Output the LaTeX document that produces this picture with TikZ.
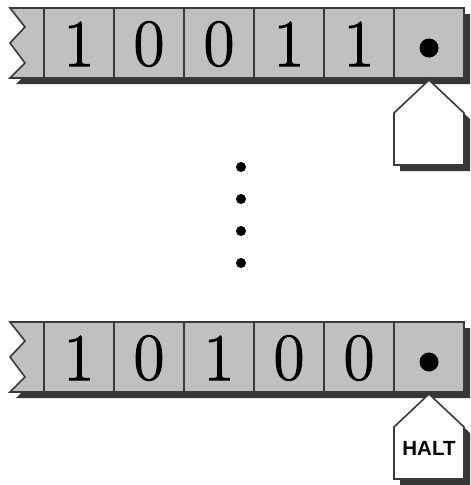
\documentclass[tikz,border=0pt]{standalone}
\usepackage{fontspec}
\newfontfamily\haltfont{Liberation Sans}
\newfontfamily\digitfont[FakeBold=1.6]{Latin Modern Roman}
\usetikzlibrary{calc}
\definecolor{tapegray}{HTML}{C0C0C0}
\definecolor{edgegray}{HTML}{3A3A3A}
\definecolor{shadowgray}{HTML}{363636}

\begin{document}
\begin{tikzpicture}[x=1pt,y=-1pt,
  tape/.style={fill=tapegray,draw=edgegray,line width=1.6pt,line join=miter},
  cellline/.style={draw=edgegray,line width=1.6pt},
  shade/.style={fill=shadowgray},
  headbox/.style={fill=white,draw=edgegray,line width=1.6pt},
  digit/.style={font=\digitfont\fontsize{67}{67}\selectfont,inner sep=0pt}]
\useasboundingbox (0,0) rectangle (471,485);

% top tape
\fill[shade] (470,14) -- (16,14) -- (31,33) -- (16,49) -- (31,69) -- (16,84) -- (470,84) -- cycle; % shadow
\draw[tape] (464,8) -- (10,8) -- (25,27) -- (10,43) -- (25,63) -- (10,78) -- (464,78) -- cycle; % tape
\foreach \x in {44,114,184,254,324,394}
  \draw[cellline] (\x,8) -- (\x,78); % cells
\foreach \d [count=\i] in {1,0,0,1,1}
  \node[digit] (top\i) at ({9+70*\i},44) {\d};
\fill (429,48) circle (9.5); % blank
\fill[shade] (435,86) -- (470,119) -- (470,171) -- (400,171) -- (400,119) -- cycle; % head shadow
\draw[headbox] (429,80) -- (464,113) -- (464,165) -- (394,165) -- (394,113) -- cycle; % head

% dots
\foreach \y in {167,199,231,263}
  \fill (241,\y) circle (5);

% bottom tape
\begin{scope}[yshift=-314pt]
\fill[shade] (470,14) -- (16,14) -- (31,33) -- (16,49) -- (31,69) -- (16,84) -- (470,84) -- cycle; % shadow
\draw[tape] (464,8) -- (10,8) -- (25,27) -- (10,43) -- (25,63) -- (10,78) -- (464,78) -- cycle; % tape
\foreach \x in {44,114,184,254,324,394}
  \draw[cellline] (\x,8) -- (\x,78); % cells
\foreach \d [count=\i] in {1,0,1,0,0}
  \node[digit] (bot\i) at ({9+70*\i},44) {\d};
\fill (429,48) circle (9.5); % blank
\fill[shade] (435,86) -- (470,119) -- (470,171) -- (400,171) -- (400,119) -- cycle; % head shadow
\draw[headbox] (429,80) -- (464,113) -- (464,165) -- (394,165) -- (394,113) -- cycle; % head
\node[font=\haltfont\bfseries\fontsize{20.5}{20.5}\selectfont] (halt) at (429,134) {HALT};
\end{scope}

\end{tikzpicture}
\end{document}
